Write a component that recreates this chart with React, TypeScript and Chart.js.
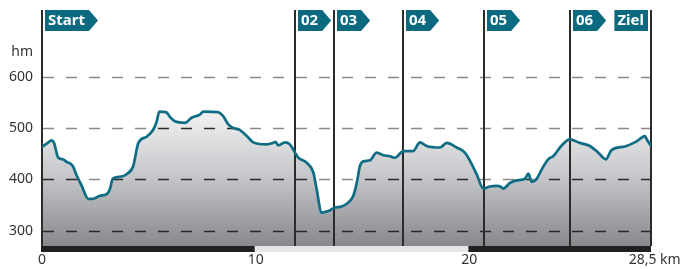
import React, { useEffect, useRef } from "react";
import { Chart, registerables } from "chart.js";

Chart.register(...registerables);

// Profile data: distance (km) and elevation (m)
const distanceKm = [
  0, 0.3, 0.45, 0.56, 0.76, 0.97, 1.15, 1.44, 1.62, 1.86, 2.17, 2.4, 2.71, 3.03, 3.18, 3.31, 3.65, 3.96,
  4.27, 4.51, 4.9, 5.21, 5.37, 5.49, 5.8, 6.02, 6.22, 6.69, 7.0, 7.39, 7.55, 8.22, 8.48, 8.72, 8.95, 9.27,
  9.66, 9.89, 10.51, 10.82, 10.93, 11.06, 11.37, 11.6, 11.84, 12.0, 12.39, 12.7, 12.85, 13.09, 13.4, 13.71,
  14.02, 14.34, 14.57, 14.73, 14.88, 15.04, 15.35, 15.66, 15.97, 16.28, 16.52, 16.91, 17.37, 17.69, 18.0,
  18.62, 18.94, 19.4, 19.79, 20.03, 20.34, 20.65, 20.96, 21.28, 21.45, 21.59, 21.9, 22.21, 22.6, 22.76,
  22.92, 23.15, 23.38, 23.69, 23.92, 24.32, 24.7, 25.17, 25.64, 26.03, 26.39, 26.65, 27.28, 27.83, 28.22,
  28.3, 28.5,
];
const elevationM = [
  463, 472, 476, 471, 442, 439, 434, 426, 408, 387, 362, 362, 368, 371, 381, 401, 405, 410,
  426, 471, 483, 497, 513, 532, 531, 520, 513, 510, 520, 526, 532, 531, 523, 507, 500, 496,
  481, 472, 468, 471, 473, 466, 472, 468, 452, 442, 432, 413, 381, 335, 338, 345,
  347, 355, 368, 393, 426, 435, 437, 452, 447, 445, 442, 455, 455, 472, 465,
  462, 471, 462, 452, 436, 410, 382, 386, 387, 386, 382, 393, 398, 401, 411,
  395, 401, 419, 439, 445, 466, 478, 471, 465, 452, 439, 457, 464, 474, 484,
  478, 465,
];

// Stage markers
const markerKm = [0, 11.84, 13.66, 16.9, 20.68, 24.7, 28.5];
const markerLabels = ["Start", "02", "03", "04", "05", "06", "Ziel"];

// Axes
const yTicks = [300, 400, 500, 600];
const xTicks = [0, 10, 20, 28.5];
const xTickLabels = ["0", "10", "20", "  28,5 km"];
const barSegments = [
  [0, 10],
  [10, 20],
  [20, 28.5],
];
const barColors = ["#231f20", "#e4e5e6", "#231f20"];

const TEAL = "#0b6a80";
const LINE = "#0e6d84";
const FONT = '"Noto Sans", "Open Sans", sans-serif';

const decoPlugin = {
  id: "profileDeco",
  beforeDatasetsDraw(chart: any) {
    const { ctx, chartArea, scales } = chart;
    ctx.save();
    ctx.strokeStyle = "#8a8a8a";
    ctx.lineWidth = 1.5;
    ctx.setLineDash([11, 12]);
    yTicks.forEach((v) => {
      const y = Math.round(scales.y.getPixelForValue(v)) + 0.5;
      ctx.beginPath();
      ctx.moveTo(chartArea.left + 1, y);
      ctx.lineTo(chartArea.right, y);
      ctx.stroke();
    });
    ctx.restore();
  },
  afterDatasetDraw(chart: any, args: any) {
    if (args.index !== 0) return;
    const { ctx, chartArea, scales } = chart;
    const meta = chart.getDatasetMeta(0);
    const pts = meta.data;
    // dark dashes inside the filled area
    ctx.save();
    ctx.beginPath();
    meta.dataset.path(ctx);
    ctx.lineTo(pts[pts.length - 1].x, chartArea.bottom);
    ctx.lineTo(pts[0].x, chartArea.bottom);
    ctx.closePath();
    ctx.clip();
    ctx.strokeStyle = "#2a2a2a";
    ctx.lineWidth = 1.3;
    ctx.setLineDash([11, 12]);
    yTicks.forEach((v) => {
      const y = Math.round(scales.y.getPixelForValue(v)) + 0.5;
      ctx.beginPath();
      ctx.moveTo(chartArea.left + 1, y);
      ctx.lineTo(chartArea.right, y);
      ctx.stroke();
    });
    ctx.restore();
    // vertical stage lines
    ctx.save();
    ctx.strokeStyle = "#2b2b2b";
    ctx.lineWidth = 2;
    markerKm.forEach((k) => {
      const x = Math.round(scales.x.getPixelForValue(k));
      ctx.beginPath();
      ctx.moveTo(x, chartArea.top);
      ctx.lineTo(x, chartArea.bottom);
      ctx.stroke();
    });
    ctx.restore();
  },
  afterDraw(chart: any) {
    const { ctx, chartArea, scales } = chart;
    ctx.save();
    // distance bar
    barSegments.forEach((seg, i) => {
      const x0 = scales.x.getPixelForValue(seg[0]);
      const x1 = scales.x.getPixelForValue(seg[1]);
      ctx.fillStyle = barColors[i];
      ctx.fillRect(x0 - 1, chartArea.bottom, x1 - x0 + (i === barSegments.length - 1 ? 1 : 0) + (i === 0 ? 1 : 0), 6);
    });
    // hm unit label
    ctx.fillStyle = "#333333";
    ctx.font = `14px ${FONT}`;
    ctx.textAlign = "right";
    ctx.textBaseline = "middle";
    ctx.fillText("hm", 33, 52);
    // flags
    ctx.font = `bold 15px ${FONT}`;
    ctx.textAlign = "left";
    const top = chartArea.top;
    const h = 21;
    markerKm.forEach((k, i) => {
      const x = Math.round(scales.x.getPixelForValue(k));
      const label = markerLabels[i];
      const w = ctx.measureText(label).width + 7;
      ctx.fillStyle = TEAL;
      let textX;
      if (i === markerKm.length - 1) {
        const right = x - 3;
        ctx.fillRect(right - w, top, w, h);
        textX = right - w + 3;
      } else {
        const left = x + 3;
        ctx.beginPath();
        ctx.moveTo(left, top);
        ctx.lineTo(left + w, top);
        ctx.lineTo(left + w + 9, top + h / 2);
        ctx.lineTo(left + w, top + h);
        ctx.lineTo(left, top + h);
        ctx.closePath();
        ctx.fill();
        textX = left + 3;
      }
      ctx.fillStyle = "#ffffff";
      ctx.fillText(label, textX, top + h / 2 + 0.5);
    });
    ctx.restore();
  },
};

export default function App() {
  const canvasRef = useRef<HTMLCanvasElement | null>(null);

  useEffect(() => {
    const canvas = canvasRef.current;
    if (!canvas) return;
    const points = distanceKm.map((x, i) => ({ x, y: elevationM[i] }));
    const chart = new Chart(canvas, {
      type: "line",
      data: {
        datasets: [
          {
            data: points,
            order: 2,
            borderWidth: 0,
            borderColor: "rgba(0,0,0,0)",
            pointRadius: 0,
            cubicInterpolationMode: "monotone",
            fill: "start",
            backgroundColor: (context: any) => {
              const { chart } = context;
              const { ctx, chartArea } = chart;
              if (!chartArea) return "#bbbbbb";
              const g = ctx.createLinearGradient(0, 105, 0, chartArea.bottom);
              g.addColorStop(0, "#f6f6f7");
              g.addColorStop(0.5, "#c6c7ca");
              g.addColorStop(1, "#88898d");
              return g;
            },
          },
          {
            data: points,
            order: 1,
            borderWidth: 2.7,
            borderColor: LINE,
            pointRadius: 0,
            cubicInterpolationMode: "monotone",
            fill: false,
            borderJoinStyle: "round",
            borderCapStyle: "round",
          },
        ],
      },
      options: {
        animation: false,
        responsive: false,
        events: [],
        layout: { padding: { top: 10, right: 36, left: 0, bottom: 0 } },
        plugins: { legend: { display: false }, tooltip: { enabled: false } },
        scales: {
          x: {
            type: "linear",
            min: 0,
            max: 28.5,
            afterBuildTicks: (scale: any) => {
              scale.ticks = xTicks.map((v) => ({ value: v }));
            },
            afterFit: (scale: any) => {
              scale.height = 23;
              scale.paddingLeft = 0;
              scale.paddingRight = 0;
            },
            grid: { display: false, drawTicks: false },
            border: { display: false },
            ticks: {
              autoSkip: false,
              maxRotation: 0,
              padding: 6,
              color: "#333333",
              font: { family: FONT, size: 14 },
              callback: (v: any) => {
                const idx = xTicks.indexOf(Number(v));
                return idx >= 0 ? xTickLabels[idx] : "";
              },
            },
          },
          y: {
            type: "linear",
            min: 270,
            max: 730,
            afterBuildTicks: (scale: any) => {
              scale.ticks = yTicks.map((v) => ({ value: v }));
            },
            afterFit: (scale: any) => {
              scale.width = 42;
              scale.paddingTop = 0;
              scale.paddingBottom = 0;
            },
            grid: { display: false, drawTicks: false },
            border: { display: false },
            ticks: {
              padding: 9,
              color: "#333333",
              font: { family: FONT, size: 14 },
            },
          },
        },
      },
      plugins: [decoPlugin],
    } as any);
    return () => chart.destroy();
  }, []);

  return (
    <div style={{ position: "fixed", left: 0, top: 0, width: 687, height: 269, background: "#ffffff" }}>
      <canvas ref={canvasRef} width={687} height={269} style={{ display: "block" }} />
    </div>
  );
}
